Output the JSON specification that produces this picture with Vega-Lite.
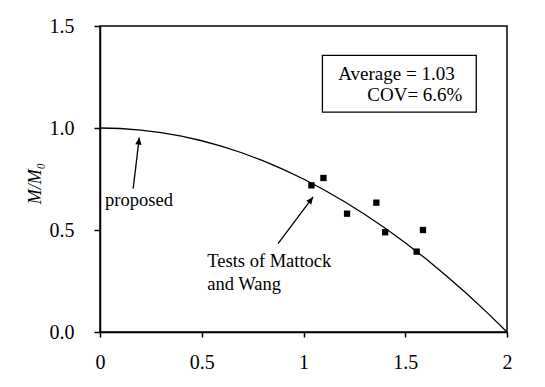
{
  "$schema": "https://vega.github.io/schema/vega-lite/v6.json",
  "width": 407,
  "height": 306,
  "autosize": {"type": "none"},
  "padding": {"left": 100, "top": 26, "right": 38, "bottom": 55},
  "background": "white",
  "config": {
    "view": {"stroke": "black", "strokeWidth": 1.5},
    "font": "'Liberation Serif', 'DejaVu Serif', serif",
    "text": {"font": "'Liberation Serif', 'DejaVu Serif', serif"},
    "axis": {
      "grid": false,
      "domainColor": "black",
      "domainWidth": 1.5,
      "tickColor": "black",
      "tickWidth": 1.5,
      "tickSize": 5,
      "labelFont": "'Liberation Serif', 'DejaVu Serif', serif",
      "labelFontSize": 20,
      "labelColor": "black",
      "titleFont": "'Liberation Serif', 'DejaVu Serif', serif",
      "titleColor": "black"
    }
  },
  "datasets": {
    "curve": [
      {"x": 0.0, "y": 1.0}, {"x": 0.1, "y": 0.9975}, {"x": 0.2, "y": 0.99}, {"x": 0.3, "y": 0.9775},
      {"x": 0.4, "y": 0.96}, {"x": 0.5, "y": 0.9375}, {"x": 0.6, "y": 0.91}, {"x": 0.7, "y": 0.8775},
      {"x": 0.8, "y": 0.84}, {"x": 0.9, "y": 0.7975}, {"x": 1.0, "y": 0.75}, {"x": 1.1, "y": 0.6975},
      {"x": 1.2, "y": 0.64}, {"x": 1.3, "y": 0.5775}, {"x": 1.4, "y": 0.51}, {"x": 1.5, "y": 0.4375},
      {"x": 1.6, "y": 0.36}, {"x": 1.7, "y": 0.2775}, {"x": 1.8, "y": 0.19}, {"x": 1.9, "y": 0.0975},
      {"x": 2.0, "y": 0.0}
    ],
    "tests": [
      {"x": 1.039, "y": 0.719}, {"x": 1.098, "y": 0.755}, {"x": 1.214, "y": 0.58},
      {"x": 1.358, "y": 0.634}, {"x": 1.401, "y": 0.489}, {"x": 1.556, "y": 0.394},
      {"x": 1.587, "y": 0.5}
    ],
    "box": [{"x1": 1.093, "x2": 1.849, "y1": 1.078, "y2": 1.356}],
    "stats": [
      {"x": 1.743, "y": 1.237, "t": "Average = 1.03"},
      {"x": 1.781, "y": 1.131, "t": "COV= 6.6%"}
    ],
    "notes": [
      {"x": 0.025, "y": 0.616, "t": "proposed"},
      {"x": 0.527, "y": 0.319, "t": "Tests of Mattock"},
      {"x": 0.527, "y": 0.204, "t": "and Wang"}
    ],
    "arrows": [
      {"label": "proposed", "x0": 0.163, "y0": 0.703, "x1": 0.193, "y1": 0.953},
      {"label": "tests", "x0": 0.875, "y0": 0.433, "x1": 1.047, "y1": 0.662}
    ]
  },
  "layer": [
    {
      "data": {"name": "box"},
      "mark": {"type": "rect", "fill": "white", "stroke": "black", "strokeWidth": 1.3},
      "encoding": {
        "x": {"field": "x1", "type": "quantitative", "scale": {"domain": [0, 2], "nice": false},
              "axis": {"values": [0, 0.5, 1, 1.5, 2], "format": "~g", "title": null, "labelPadding": 15, "labelFlush": false}},
        "x2": {"field": "x2"},
        "y": {"field": "y1", "type": "quantitative", "scale": {"domain": [0, 1.5], "nice": false},
              "axis": {"values": [0, 0.5, 1, 1.5], "format": ".1f", "tickSize": 6, "labelPadding": 20, "labelFlush": false,
                       "title": "M/M₀", "titleFontSize": 18, "titleFontStyle": "italic", "titleFontWeight": "normal",
                       "titleAngle": -90, "titleX": -65, "titleY": 157, "titleAlign": "center", "titleBaseline": "middle"}},
        "y2": {"field": "y2"}
      }
    },
    {
      "data": {"name": "curve"},
      "mark": {"type": "line", "color": "black", "strokeWidth": 1.3},
      "encoding": {
        "x": {"field": "x", "type": "quantitative"},
        "y": {"field": "y", "type": "quantitative"}
      }
    },
    {
      "data": {"name": "tests"},
      "mark": {"type": "point", "shape": "square", "filled": true, "color": "black", "size": 40, "opacity": 1},
      "encoding": {
        "x": {"field": "x", "type": "quantitative"},
        "y": {"field": "y", "type": "quantitative"}
      }
    },
    {
      "data": {"name": "arrows"},
      "mark": {"type": "rule", "color": "black", "strokeWidth": 1.3},
      "encoding": {
        "x": {"field": "x0", "type": "quantitative"},
        "y": {"field": "y0", "type": "quantitative"},
        "x2": {"field": "x1"},
        "y2": {"field": "y1"}
      }
    },
    {
      "data": {"name": "arrows"},
      "transform": [{"filter": "datum.label == 'proposed'"}],
      "mark": {"type": "point", "shape": "M -0.45 1 L 0 0 L 0.45 1 Z", "filled": true, "color": "black", "size": 200, "opacity": 1, "angle": 7},
      "encoding": {
        "x": {"field": "x1", "type": "quantitative"},
        "y": {"field": "y1", "type": "quantitative"}
      }
    },
    {
      "data": {"name": "arrows"},
      "transform": [{"filter": "datum.label == 'tests'"}],
      "mark": {"type": "point", "shape": "M -0.45 1 L 0 0 L 0.45 1 Z", "filled": true, "color": "black", "size": 200, "opacity": 1, "angle": 37},
      "encoding": {
        "x": {"field": "x1", "type": "quantitative"},
        "y": {"field": "y1", "type": "quantitative"}
      }
    },
    {
      "data": {"name": "stats"},
      "mark": {"type": "text", "align": "right", "baseline": "alphabetic", "fontSize": 19, "font": "'Liberation Serif', 'DejaVu Serif', serif", "color": "black"},
      "encoding": {
        "x": {"field": "x", "type": "quantitative"},
        "y": {"field": "y", "type": "quantitative"},
        "text": {"field": "t"}
      }
    },
    {
      "data": {"name": "notes"},
      "mark": {"type": "text", "align": "left", "baseline": "alphabetic", "fontSize": 18.5, "font": "'Liberation Serif', 'DejaVu Serif', serif", "color": "black"},
      "encoding": {
        "x": {"field": "x", "type": "quantitative"},
        "y": {"field": "y", "type": "quantitative"},
        "text": {"field": "t"}
      }
    }
  ]
}
